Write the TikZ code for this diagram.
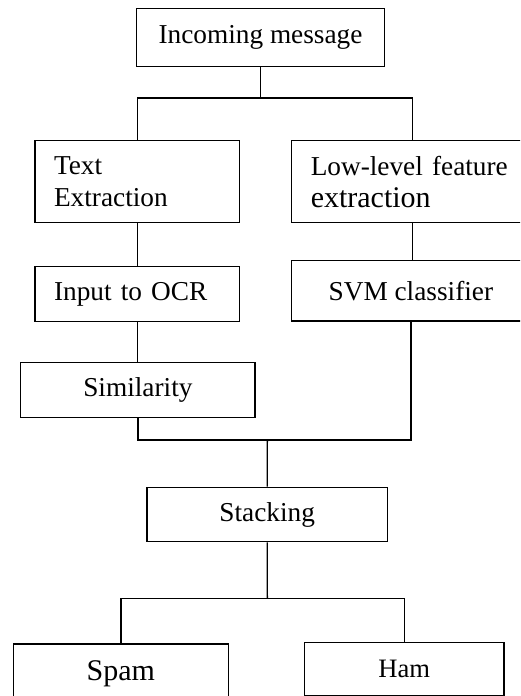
\documentclass[tikz,border=0pt]{standalone}
\usepackage{fontspec}
\setmainfont{Liberation Serif}
\usepackage{tikz}

\begin{document}
\begin{tikzpicture}[x=0.5pt, y=-0.5pt,
        box/.style = {draw, line width=0.7pt, inner sep=0pt, align=center,
            font=\fontsize{13.65}{16}\selectfont},
        leftbox/.style = {box, align=left, inner xsep=9.5pt},
        link/.style = {line width=0.7pt}]
            \useasboundingbox (0,0) rectangle (520,696);
            \clip (0,0) rectangle (520,696);
            \node[box, minimum width=123.8pt, minimum height=29.2pt] (incoming) at (260.5, 37.5) {Incoming message};
            \node[leftbox, text width=83.15pt, minimum height=41pt] (textext) at (137.2, 181.7) {Text\\Extraction};
            \node[leftbox, text width=101.65pt, minimum height=41pt] (lowlevel) at (412.4, 181.7) {Low-level feature\\{\fontsize{15}{16}\selectfont extraction}};
            \node[leftbox, text width=83.15pt, minimum height=27.5pt] (ocr) at (137.2, 294.2) {Input to OCR};
            \node[box, minimum width=119.15pt, minimum height=30.15pt] (svm) at (410.9, 290.9) {SVM classifier};
            \node[box, minimum width=117.15pt, minimum height=27.3pt] (simil) at (137.9, 390) {Similarity};
            \node[box, minimum width=120.15pt, minimum height=27.2pt] (stack) at (267.2, 514.5) {Stacking};
            \node[box, minimum width=107.5pt, minimum height=30pt, font=\fontsize{15}{18}\selectfont] (spam) at (120.8, 674) {Spam};
            \node[box, minimum width=99.85pt, minimum height=26.4pt, font=\fontsize{13.3}{16}\selectfont] (ham) at (404.2, 669) {Ham};
            \coordinate (split1) at (260.5, 98);
            \coordinate (join) at (267.3, 440);
            \coordinate (split2) at (267.3, 598.3);
            \draw[link] (incoming) -- (split1);
            \draw[link] (textext.north) |- (split1) -| (lowlevel.north);
            \draw[link] (textext) -- (ocr);
            \draw[link] (ocr.south) -- (ocr.south |- simil.north);
            \draw[link] (lowlevel.south) -- (lowlevel.south |- svm.north);
            \draw[link] (simil.south) |- (join) -| (svm.south);
            \draw[link] (join) -- (stack);
            \draw[link] (stack) -- (split2);
            \draw[link] (spam.north) |- (split2) -| (ham.north);
        \end{tikzpicture}
\end{document}
